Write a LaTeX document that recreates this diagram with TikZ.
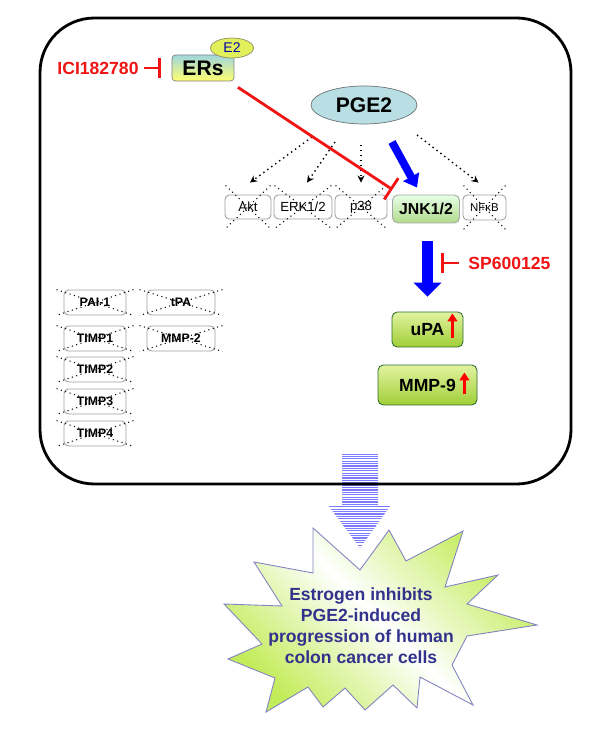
\documentclass[tikz,border=0pt]{standalone}
\usepackage{fontspec}
\setmainfont{Liberation Sans}
\usetikzlibrary{arrows.meta,calc,shapes.geometric}

\definecolor{inhred}{RGB}{240,20,20}
\definecolor{burstink}{RGB}{50,50,140}
\definecolor{burstline}{RGB}{130,130,195}
\definecolor{burstgreen}{RGB}{195,236,90}
\definecolor{stripeblue}{RGB}{125,125,255}
\definecolor{ersteal}{RGB}{160,215,222}
\definecolor{ersyellow}{RGB}{255,255,110}
\definecolor{pgefill}{RGB}{185,222,228}
\definecolor{etwofill}{RGB}{225,240,90}
\definecolor{gtop}{RGB}{225,243,160}
\definecolor{gbottom}{RGB}{160,206,55}

\begin{document}
\begin{tikzpicture}[x=0.02cm,y=-0.02cm,
	xbox/.style={draw=gray!75,rounded corners=2.5pt,line width=0.5pt,inner sep=0pt,minimum height=0.48cm},
	lbox/.style={xbox,minimum height=0.5cm,font=\fontsize{7}{8}\selectfont\bfseries},
	xline/.style={dotted,line width=0.6pt},
	greenbox/.style={draw=gray!60!green!60!black,rounded corners=3pt,line width=0.5pt,inner sep=0pt,top color=gtop,bottom color=gbottom,font=\fontsize{10}{12}\selectfont\bfseries},
	redtxt/.style={text=inhred,inner sep=0pt,font=\fontsize{10}{12}\selectfont\bfseries},
	inhibit/.style={draw=inhred,line width=1.6pt,-{Bar[width=11pt]}},
	dotarrow/.style={dotted,line width=0.8pt,-{Stealth[length=4pt,width=4pt]}},
	bigblue/.style={draw=blue,line width=4.5pt,-{Triangle[width=10pt,length=7pt]}},
	uparrow/.style={draw=red,line width=1.6pt,-{Triangle[width=5.5pt,length=4.5pt]}},
	stripe/.style={draw=stripeblue,line width=0.75pt}]
	\useasboundingbox (0,0) rectangle (600,729);

	% striped arrow towards the conclusion
	\begin{scope}
		\clip (342,454) -- (378,454) -- (378,505) -- (391,505) -- (360,548) -- (328,505) -- (342,505) -- cycle;
		\foreach \yy in {454,456.4,...,548} \draw[stripe] (320,\yy) -- (400,\yy);
	\end{scope}
	\draw[line width=1.6pt,rounded corners=31pt] (40,18) rectangle (571,484);

	% receptor and inhibitor
	\node[draw=gray,rounded corners=2pt,inner sep=0pt,top color=ersteal,bottom color=ersyellow,minimum width=1.24cm,minimum height=0.52cm,font=\fontsize{12}{14}\selectfont\bfseries] (ers) at (203,68) {ERs};
	\node[ellipse,draw=gray!70!olive,fill=etwofill,inner sep=0pt,minimum width=0.86cm,minimum height=0.4cm,text=blue!65!black,font=\fontsize{8}{9}\selectfont] (e2) at (232,48) {E2};
	\node[redtxt] (ici) at (98,68) {ICI182780};
	\draw[inhibit,shorten <=2.8pt,shorten >=6.3pt] (ici) -- (ers);

	\node[ellipse,draw=gray!60!pgefill!70!black,fill=pgefill,inner sep=0pt,minimum width=2.12cm,minimum height=0.76cm,font=\fontsize{12}{14}\selectfont\bfseries] (pge2) at (364,105) {PGE2};

	% kinases
	\node[xbox,minimum width=0.92cm,font=\fontsize{7.5}{9}\selectfont] (akt) at (248,207) {Akt};
	\node[xbox,minimum width=1.16cm,font=\fontsize{7.5}{9}\selectfont] (erk) at (303,207) {ERK1/2};
	\node[xbox,minimum width=1.04cm,font=\fontsize{7.5}{9}\selectfont] (p38) at (361,207) {p38};
	\node[greenbox,draw=gray!70,top color=white!90!green,bottom color=green!35!olive!45!white,minimum width=1.34cm,minimum height=0.56cm,font=\fontsize{9}{11}\selectfont\bfseries] (jnk) at (426,209) {JNK1/2};
	\node[xbox,minimum width=0.86cm,minimum height=0.5cm,font=\fontsize{6.5}{8}\selectfont] (nfkb) at (484.5,207.5) {NFκB};
	\foreach \n in {akt,erk,p38,nfkb}
		\draw[xline] ([shift={(1,-9)}]\n.north west) -- ([shift={(-1,9)}]\n.south east) ([shift={(-1,-9)}]\n.north east) -- ([shift={(1,9)}]\n.south west);

	\draw[dotarrow] ([shift={(-52,32)}]pge2.center) -- ([shift={(2,-12)}]akt.north);
	\draw[dotarrow] ([shift={(-29,37)}]pge2.center) -- ([shift={(4,-12)}]erk.north);
	\draw[dotarrow] ([shift={(-3,40)}]pge2.center) -- ([shift={(0,-12)}]p38.north);
	\draw[dotarrow] ([shift={(53,30)}]pge2.center) -- ([shift={(-6,-12)}]nfkb.north);
	\draw[bigblue] ([shift={(28,37)}]pge2.center) -- ([shift={(-9,-7)}]jnk.north);
	\draw[inhibit,-{Bar[width=14.5pt]}] ([shift={(35,6)}]ers.south) -- ([shift={(5,-5)}]p38.north east);

	% downstream
	\node[greenbox,minimum width=1.42cm,minimum height=0.7cm] (upa) at (427.5,329.5) {uPA\hspace{5pt}};
	\node[greenbox,minimum width=1.98cm,minimum height=0.8cm] (mmp9) at (427.5,385) {MMP-9\hspace{5pt}};
	\draw[uparrow] ($(upa.south east)+(-11,-9)$) -- ++(0,-25);
	\draw[uparrow] ($(mmp9.south east)+(-13,-11)$) -- ++(0,-22);
	\draw[bigblue,line width=6.3pt,-{Triangle[width=15.5pt,length=8pt]}] ([shift={(1.5,18)}]jnk.south) -- ([shift={(0,-15)}]upa.north);
	\node[redtxt,anchor=west] (sp) at (468,263) {SP600125};
	\draw[inhibit] ([shift={(-9,0)}]sp.west) -- ([shift={(-27,0)}]sp.west);

	% unchanged factors
	\node[lbox,minimum width=1.24cm] (pai) at (95,302.5) {PAI-1};
	\node[lbox,minimum width=1.36cm] (tpa) at (181,302.5) {tPA};
	\node[lbox,minimum width=1.24cm] (timp1) at (95,338.5) {TIMP1};
	\node[lbox,minimum width=1.36cm] (mmp2) at (181,338.5) {MMP-2};
	\node[lbox,minimum width=1.24cm] (timp2) at (95,369.5) {TIMP2};
	\node[lbox,minimum width=1.24cm] (timp3) at (95,401.5) {TIMP3};
	\node[lbox,minimum width=1.24cm] (timp4) at (95,433.5) {TIMP4};
	\foreach \n in {pai,tpa,timp1,mmp2,timp2,timp3,timp4}
		\draw[xline] ([shift={(-7,0)}]\n.north west) -- ([shift={(7,0)}]\n.south east) ([shift={(7,0)}]\n.north east) -- ([shift={(-7,0)}]\n.south west);

	% conclusion
	\draw[draw=burstline,line width=0.5pt,top color=burstgreen,bottom color=burstgreen,middle color=white,shading angle=-45]
		(313,528) -- (360,570) -- (389,530) -- (406,561) -- (463,531) -- (445,587) -- (498,575) -- (467,604) -- (537,625) -- (467,636) -- (452,665) -- (473,705) -- (420,677) -- (417,708) -- (393,685) -- (365,710) -- (345,688) -- (323,707) -- (308,687) -- (266,712) -- (275,678) -- (228,659) -- (262,644) -- (224,604) -- (282,606) -- (254,562) -- (313,573) -- cycle;
	\node[align=center,text=burstink,font=\fontsize{10}{12}\selectfont\bfseries] (concl) at (361,626) {Estrogen inhibits\\PGE2-induced\\progression of human\\colon cancer cells};
\end{tikzpicture}
\end{document}
